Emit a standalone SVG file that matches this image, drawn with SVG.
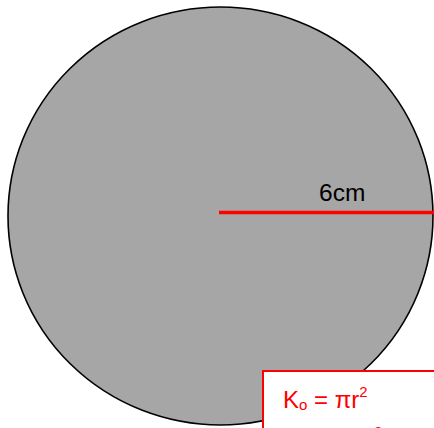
<svg xmlns="http://www.w3.org/2000/svg" width="434" height="428" viewBox="0 0 434 428">
<style>
.t{font-family:"Liberation Sans","Open Sans",sans-serif}
</style>
<rect width="434" height="428" fill="#fff"/>
<g id="circle">
<ellipse cx="220.5" cy="216" rx="212.5" ry="209" fill="#a6a6a6" stroke="#000" stroke-width="1.6"/>
</g>
<g id="radius">
<line x1="219" y1="212.5" x2="434" y2="212.5" stroke="#ff0000" stroke-width="3.5"/>
<text class="t" x="319" y="201" font-size="24.5" fill="#000">6cm</text>
</g>
<g id="formula">
<rect x="263" y="371" width="180" height="70" fill="#fff" stroke="#ff0000" stroke-width="2"/>
<text class="t" x="283" y="408" font-size="24" fill="#ff0000">K<tspan font-size="15" dy="2">o</tspan><tspan dy="-2"> = πr</tspan><tspan font-size="15" dy="-11">2</tspan></text>
<text class="t" x="374" y="437" font-size="15" fill="#ff0000">2</text>
</g>
</svg>
